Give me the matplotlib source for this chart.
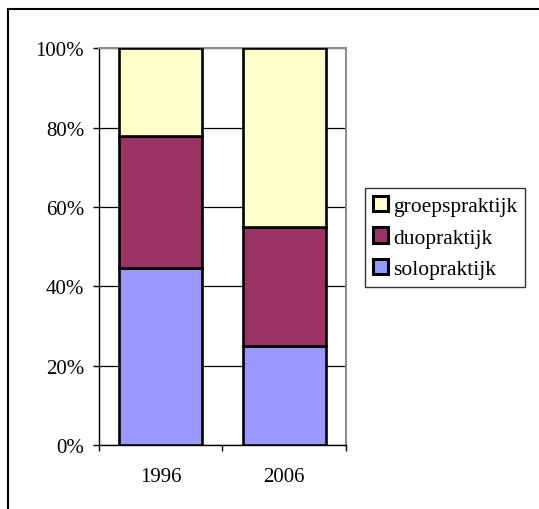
import matplotlib
matplotlib.use("Agg")
import matplotlib.pyplot as plt
from matplotlib.patches import Rectangle
from matplotlib.ticker import PercentFormatter, FixedLocator

categories = ["1996", "2006"]
series_names = ["solopraktijk", "duopraktijk", "groepspraktijk"]
solo = [44.5, 25.0]
duo = [33.5, 30.0]
groep = [22.0, 45.0]
colors = ["#9999FF", "#993366", "#FFFFCC"]

plt.rcParams['font.family'] = ['Liberation Serif', 'DejaVu Serif']

fig = plt.figure(figsize=(5.39, 5.10), dpi=100)
ax = fig.add_axes([98.7 / 539, 64 / 510, (346 - 98.7) / 539, (460.7 - 64) / 510])

x = list(range(len(categories)))
bottom = [0.0] * len(categories)
handles = []
for vals, name, col in zip([solo, duo, groep], series_names, colors):
    b = ax.bar(x, vals, width=0.67, bottom=bottom, color=col, edgecolor='black',
               linewidth=1.9, label=name, zorder=3)
    handles.append(b)
    bottom = [bo + v for bo, v in zip(bottom, vals)]

ax.set_xlim(-0.5, 1.5)
ax.set_ylim(0, 100)
ax.set_yticks([0, 20, 40, 60, 80, 100])
ax.yaxis.set_major_formatter(PercentFormatter(decimals=0))
ax.set_xticks(x)
ax.set_xticklabels(categories)
ax.xaxis.set_minor_locator(FixedLocator([-0.5, 0.5, 1.5]))
ax.tick_params(axis='x', which='major', length=0, pad=16, labelsize=15)
ax.tick_params(axis='x', which='minor', length=4.5, width=1, direction='out', color='black')
ax.tick_params(axis='y', length=4.5, width=1, direction='out', pad=6, labelsize=15)

ax.yaxis.grid(True, color='black', linewidth=0.9)
ax.set_axisbelow(True)

for s in ['left', 'bottom']:
    ax.spines[s].set_color('black')
    ax.spines[s].set_linewidth(1.0)
for s in ['top', 'right']:
    ax.spines[s].set_color('#8c8c8c')
    ax.spines[s].set_linewidth(1.5)

leg = ax.legend(handles[::-1], series_names[::-1], loc='upper left',
                bbox_to_anchor=(365 / 539, 1 - 189 / 510), bbox_transform=fig.transFigure,
                borderaxespad=0, fontsize=15.5, frameon=True, fancybox=False,
                edgecolor='black', handlelength=0.7, handleheight=0.7,
                handletextpad=0.25, borderpad=0.35, labelspacing=0.55)
leg.get_frame().set_linewidth(1.0)
for h in leg.legend_handles:
    h.set_linewidth(2.2)

fig.add_artist(Rectangle((8 / 539, -0.1), 2, (1 - 10 / 510) + 0.1, transform=fig.transFigure,
                         fill=False, edgecolor='black', linewidth=1.5))

fig.savefig("out.png", dpi=100)
